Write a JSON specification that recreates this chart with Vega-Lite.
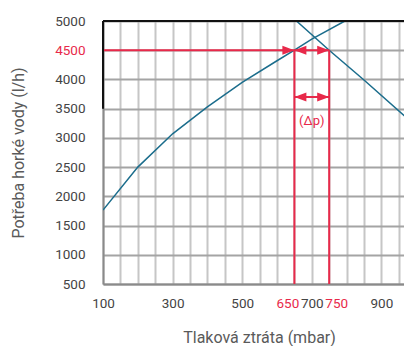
{
  "$schema": "https://vega.github.io/schema/vega-lite/v6.json",
  "autosize": "none",
  "padding": {"left": 103, "top": 21, "right": 0, "bottom": 62},
  "width": 301,
  "height": 263,
  "config": {
    "view": {"stroke": null},
    "font": "Roboto",
    "axis": {
      "labelFont": "Roboto",
      "labelFontSize": 13.5,
      "labelColor": "#444444",
      "titleFont": "Roboto",
      "titleFontSize": 16,
      "titleFontWeight": "normal",
      "titleColor": "#5a5a5a",
      "ticks": false,
      "domainColor": "#8a8a8a",
      "domainWidth": 2
    }
  },
  "datasets": {
    "demand": [
      {"dp": 100, "q": 1765},
      {"dp": 200, "q": 2500},
      {"dp": 300, "q": 3070},
      {"dp": 400, "q": 3530},
      {"dp": 500, "q": 3950},
      {"dp": 600, "q": 4320},
      {"dp": 650, "q": 4500},
      {"dp": 700, "q": 4690},
      {"dp": 795, "q": 5000}
    ],
    "pump": [
      {"dp": 656, "q": 5000},
      {"dp": 750, "q": 4500},
      {"dp": 850, "q": 3990},
      {"dp": 1000, "q": 3200}
    ],
    "guides": [
      {"dp": 100, "dp2": 750, "q": 4500, "q2": 4500},
      {"dp": 650, "dp2": 650, "q": 500, "q2": 4500},
      {"dp": 750, "dp2": 750, "q": 500, "q2": 4500},
      {"dp": 650, "dp2": 750, "q": 3700, "q2": 3700}
    ],
    "arrows": [
      {"dp": 650, "q": 4500, "dir": "right"},
      {"dp": 650, "q": 4500, "dir": "left"},
      {"dp": 750, "q": 4500, "dir": "right"},
      {"dp": 650, "q": 3700, "dir": "left"},
      {"dp": 750, "q": 3700, "dir": "right"}
    ],
    "frame": [
      {"dp": 100, "dp2": 965, "q": 5000, "q2": 5000},
      {"dp": 100, "dp2": 100, "q": 3500, "q2": 5000}
    ],
    "notes": [
      {"dp": 700, "q": 3290, "label": "(Δp)"}
    ]
  },
  "encoding": {
    "x": {
      "field": "dp",
      "type": "quantitative",
      "scale": {"domain": [100, 965], "nice": false, "zero": false},
      "axis": {
        "title": "Tlaková ztráta (mbar)",
        "format": "d",
        "values": [100, 150, 200, 250, 300, 350, 400, 450, 500, 550, 600, 650, 700, 750, 800, 850, 900, 950],
        "labelExpr": "indexof([100, 300, 500, 650, 700, 750, 900], datum.value) >= 0 ? datum.label : ''",
        "labelColor": {"condition": {"test": "datum.value == 650 || datum.value == 750", "value": "#e8294a"}, "value": "#444444"},
        "labelOffset": {"condition": [{"test": "datum.value == 650", "value": -7}, {"test": "datum.value == 750", "value": 7}], "value": 0},
        "labelOverlap": false,
        "labelFlush": false,
        "labelPadding": 12,
        "titlePadding": 20,
        "titleX": 156,
        "grid": true,
        "gridColor": "#c6c6c6",
        "gridWidth": 2
      }
    },
    "y": {
      "field": "q",
      "type": "quantitative",
      "scale": {"domain": [500, 5000], "nice": false, "zero": false},
      "axis": {
        "title": "Potřeba horké vody (l/h)",
        "format": "d",
        "values": [500, 1000, 1500, 2000, 2500, 3000, 3500, 4000, 4500, 5000],
        "labelColor": {"condition": {"test": "datum.value == 4500", "value": "#e8294a"}, "value": "#444444"},
        "labelPadding": 18,
        "titlePadding": 28,
        "grid": true,
        "gridColor": "#a4a4a4",
        "gridWidth": 2
      }
    }
  },
  "layer": [
    {
      "data": {"name": "demand"},
      "mark": {"type": "line", "color": "#1b6d8c", "strokeWidth": 1.5, "clip": true}
    },
    {
      "data": {"name": "pump"},
      "mark": {"type": "line", "color": "#1b6d8c", "strokeWidth": 1.5, "clip": true}
    },
    {
      "data": {"name": "guides"},
      "mark": {"type": "rule", "color": "#e8294a", "strokeWidth": 2},
      "encoding": {"x2": {"field": "dp2"}, "y2": {"field": "q2"}}
    },
    {
      "data": {"name": "arrows"},
      "transform": [{"filter": "datum.dir == 'right'"}],
      "mark": {"type": "point", "shape": "M-1,-0.75L1,0L-1,0.75Z", "size": 144, "filled": true, "opacity": 1, "color": "#e8294a", "xOffset": -6}
    },
    {
      "data": {"name": "arrows"},
      "transform": [{"filter": "datum.dir == 'left'"}],
      "mark": {"type": "point", "shape": "M1,-0.75L-1,0L1,0.75Z", "size": 144, "filled": true, "opacity": 1, "color": "#e8294a", "xOffset": 6}
    },
    {
      "data": {"name": "frame"},
      "mark": {"type": "rule", "color": "#111111", "strokeWidth": 2},
      "encoding": {"x2": {"field": "dp2"}, "y2": {"field": "q2"}}
    },
    {
      "data": {"name": "notes"},
      "mark": {"type": "text", "color": "#e8294a", "fontSize": 13, "font": "Roboto"},
      "encoding": {"text": {"field": "label"}}
    }
  ]
}
